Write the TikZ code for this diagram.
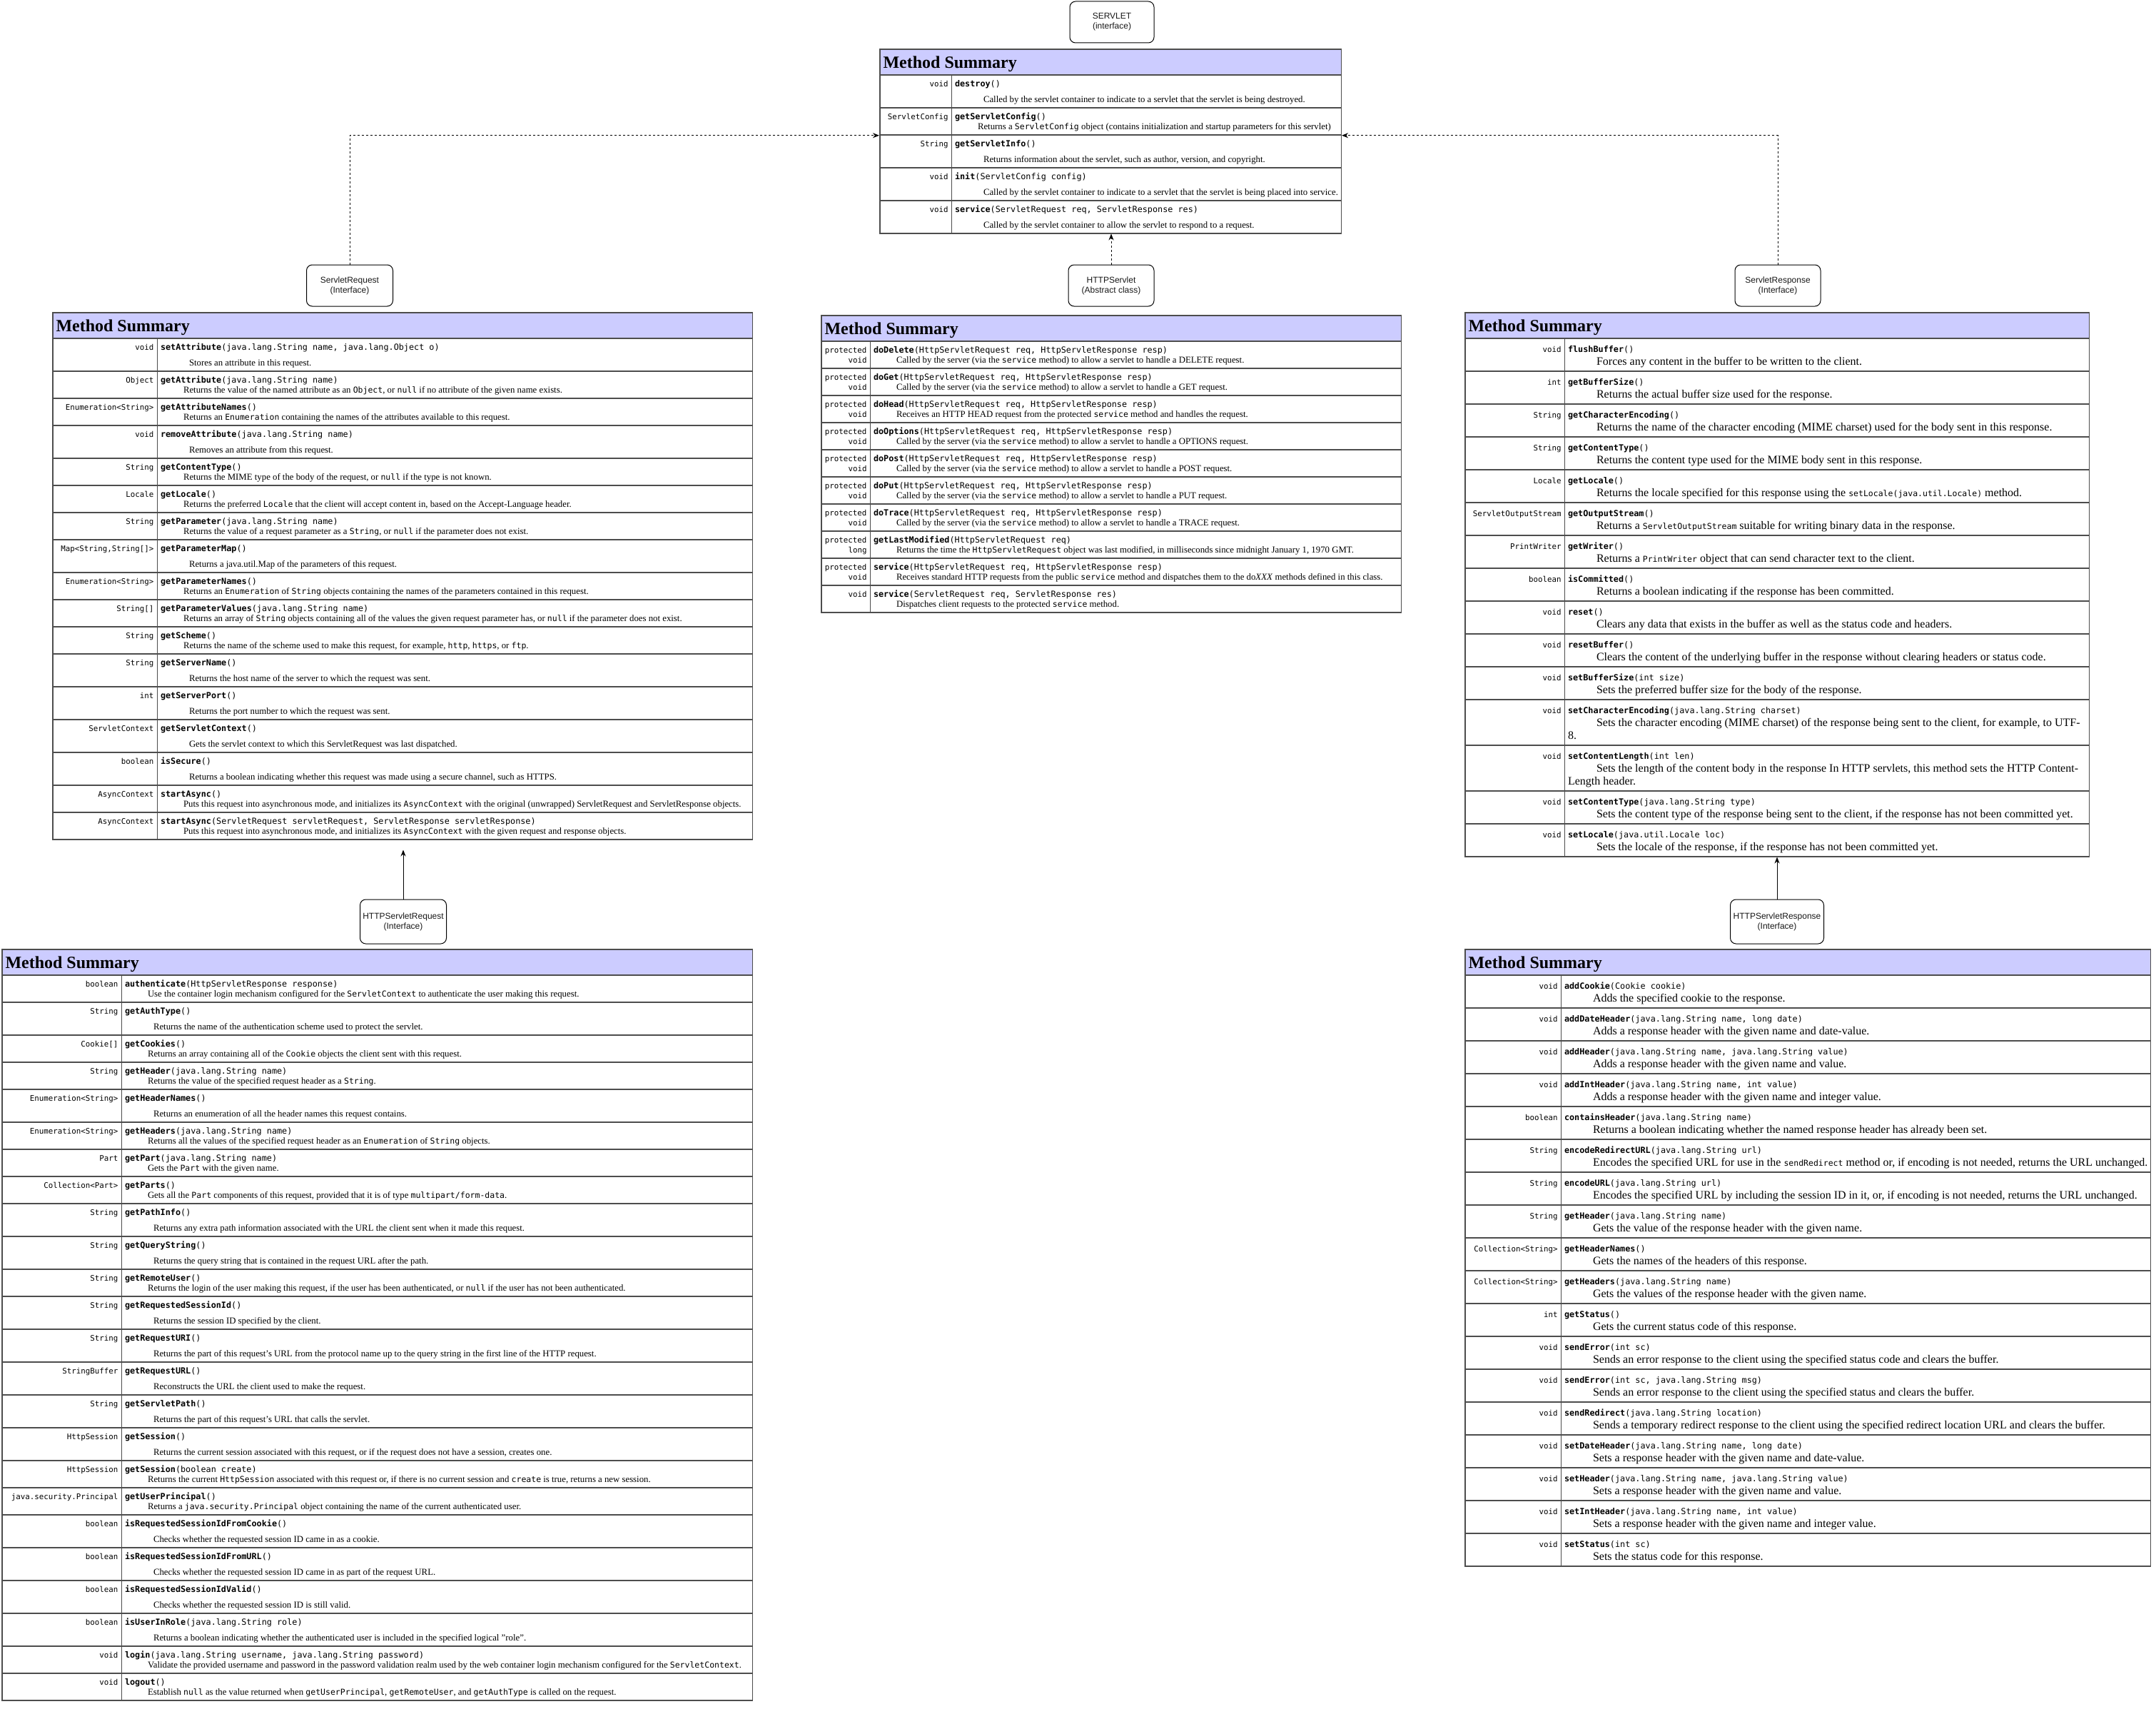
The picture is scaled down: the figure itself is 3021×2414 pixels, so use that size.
\documentclass[tikz,border=0pt]{standalone}
\usepackage{fontspec}
\setmainfont{Liberation Serif}
\setsansfont{Liberation Sans}
\setmonofont{DejaVu Sans Mono}
\usepackage{array}
\usepackage{colortbl}
\usetikzlibrary{arrows.meta}

\definecolor{hdrblue}{HTML}{CCCCFF}
\definecolor{rulegray}{HTML}{4D4D4D}
\setlength{\tabcolsep}{4pt}
\setlength{\arrayrulewidth}{1.5pt}
\arrayrulecolor{rulegray}

\newlength{\dind}
\newcommand{\lsk}{14}
\newcommand{\dsz}{12.8}
\newcommand{\typefont}{\fontsize{10.8}{\lsk}\selectfont\ttfamily}
\newcommand{\methfont}{\fontsize{11.8}{\lsk}\selectfont\ttfamily}
\newcommand{\descfont}{\fontsize{\dsz}{\lsk}\selectfont\rmfamily}
\newcommand{\mono}[1]{{\fontsize{11.5}{\lsk}\selectfont\ttfamily #1}}
\newcolumntype{L}[1]{>{\raggedleft\arraybackslash\typefont}p{#1}}
\newcolumntype{R}[1]{>{\raggedright\arraybackslash\methfont}p{#1}}
\newcommand{\mhead}{\hline\multicolumn{2}{|>{\columncolor{hdrblue}}l|}{\rule[-9pt]{0pt}{34.5pt}\fontsize{24}{28}\selectfont\bfseries Method Summary}\\\hline}
\newcommand{\mr}[4]{#1 & \textbf{#2}#3\par\noindent\hspace*{\dind}\mbox{\descfont #4}\\\hline}
\newcommand{\mrt}[4]{#1 & \textbf{#2}#3\par\vspace{8pt}\noindent\hspace*{40pt}\mbox{\descfont #4}\\\hline}
\newcommand{\mrw}[5]{#1 & \textbf{#2}#3\par\noindent\hspace*{\dind}\mbox{\descfont #4}\par\noindent\mbox{\descfont #5}\\\hline}
\newcommand{\smalltab}{\renewcommand{\lsk}{14}\renewcommand{\dsz}{12.8}\setlength{\dind}{32pt}\fontsize{12}{22.5}\selectfont}
\newcommand{\bigtab}{\renewcommand{\lsk}{18}\renewcommand{\dsz}{16}\setlength{\dind}{40pt}\fontsize{12}{26.5}\selectfont}

\begin{document}
\begin{tikzpicture}[x=1pt,y=-1pt]
	\tikzstyle{ibox}=[draw, rounded corners=8pt, line width=1pt, minimum height=58pt, align=center, text=black!90, font={\fontsize{12}{14}\selectfont\sffamily}]
	\tikzstyle{mtab}=[anchor=north west, inner sep=0pt, outer sep=0pt]
	\tikzstyle{dep}=[draw, line width=1pt, dash pattern=on 3pt off 3pt, -{Stealth[length=9pt,width=7pt]}]
	\tikzstyle{ext}=[draw, line width=1pt, -{Stealth[length=9pt,width=7pt]}]
	\fill[white] (0,0) rectangle (3021,2414);
	\useasboundingbox (0,0) rectangle (3021,2414);

	\node[ibox, minimum width=118pt] (srv) at (1558,31) {SERVLET\\(interface)};
	\node[ibox, minimum width=121pt] (sreq) at (490,400) {ServletRequest\\(Interface)};
	\node[ibox, minimum width=120pt] (hsrv) at (1557,400) {HTTPServlet\\(Abstract class)};
	\node[ibox, minimum width=120pt] (sres) at (2491,400) {ServletResponse\\(Interface)};
	\node[ibox, minimum width=121pt, minimum height=62pt] (hreq) at (565,1291) {HTTPServletRequest\\(Interface)};
	\node[ibox, minimum width=131pt, minimum height=62pt] (hres) at (2490,1291) {HTTPServletResponse\\(Interface)};

	\node[mtab] (srvtab) at (1232,68) {\smalltab\begin{tabular}{|L{91pt}|R{536.5pt}|}
		\mhead
		\mrt{void}{destroy}{()}{Called by the servlet container to indicate to a servlet that the servlet is being destroyed.}
		\mr{ServletConfig}{getServletConfig}{()}{Returns a \mono{ServletConfig} object (contains initialization and startup parameters for this servlet)}
		\mrt{String}{getServletInfo}{()}{Returns information about the servlet, such as author, version, and copyright.}
		\mrt{void}{init}{(ServletConfig config)}{Called by the servlet container to indicate to a servlet that the servlet is being placed into service.}
		\mrt{void}{service}{(ServletRequest req, ServletResponse res)}{Called by the servlet container to allow the servlet to respond to a request.}
	\end{tabular}};

	\node[mtab] (sreqtab) at (73,437) {\smalltab\begin{tabular}{|L{137pt}|R{824.5pt}|}
		\mhead
		\mrt{void}{setAttribute}{(java.lang.String name, java.lang.Object o)}{Stores an attribute in this request.}
		\mr{Object}{getAttribute}{(java.lang.String name)}{Returns the value of the named attribute as an \mono{Object}, or \mono{null} if no attribute of the given name exists.}
		\mr{Enumeration<String>}{getAttributeNames}{()}{Returns an \mono{Enumeration} containing the names of the attributes available to this request.}
		\mrt{void}{removeAttribute}{(java.lang.String name)}{Removes an attribute from this request.}
		\mr{String}{getContentType}{()}{Returns the MIME type of the body of the request, or \mono{null} if the type is not known.}
		\mr{Locale}{getLocale}{()}{Returns the preferred \mono{Locale} that the client will accept content in, based on the Accept-Language header.}
		\mr{String}{getParameter}{(java.lang.String name)}{Returns the value of a request parameter as a \mono{String}, or \mono{null} if the parameter does not exist.}
		\mrt{Map<String,String[]>}{getParameterMap}{()}{Returns a java.util.Map of the parameters of this request.}
		\mr{Enumeration<String>}{getParameterNames}{()}{Returns an \mono{Enumeration} of \mono{String} objects containing the names of the parameters contained in this request.}
		\mr{String[]}{getParameterValues}{(java.lang.String name)}{Returns an array of \mono{String} objects containing all of the values the given request parameter has, or \mono{null} if the parameter does not exist.}
		\mr{String}{getScheme}{()}{Returns the name of the scheme used to make this request, for example, \mono{http}, \mono{https}, or \mono{ftp}.}
		\mrt{String}{getServerName}{()}{Returns the host name of the server to which the request was sent.}
		\mrt{int}{getServerPort}{()}{Returns the port number to which the request was sent.}
		\mrt{ServletContext}{getServletContext}{()}{Gets the servlet context to which this ServletRequest was last dispatched.}
		\mrt{boolean}{isSecure}{()}{Returns a boolean indicating whether this request was made using a secure channel, such as HTTPS.}
		\mr{AsyncContext}{startAsync}{()}{Puts this request into asynchronous mode, and initializes its \mono{AsyncContext} with the original (unwrapped) ServletRequest and ServletResponse objects.}
		\mr{AsyncContext}{startAsync}{(ServletRequest servletRequest, ServletResponse servletResponse)}{Puts this request into asynchronous mode, and initializes its \mono{AsyncContext} with the given request and response objects.}
	\end{tabular}};

	\node[mtab] (hsrvtab) at (1150,441) {\smalltab\begin{tabular}{|L{59pt}|R{734.5pt}|}
		\mhead
		\mr{protected\newline void}{doDelete}{(HttpServletRequest req, HttpServletResponse resp)}{Called by the server (via the \mono{service} method) to allow a servlet to handle a DELETE request.}
		\mr{protected\newline void}{doGet}{(HttpServletRequest req, HttpServletResponse resp)}{Called by the server (via the \mono{service} method) to allow a servlet to handle a GET request.}
		\mr{protected\newline void}{doHead}{(HttpServletRequest req, HttpServletResponse resp)}{Receives an HTTP HEAD request from the protected \mono{service} method and handles the request.}
		\mr{protected\newline void}{doOptions}{(HttpServletRequest req, HttpServletResponse resp)}{Called by the server (via the \mono{service} method) to allow a servlet to handle a OPTIONS request.}
		\mr{protected\newline void}{doPost}{(HttpServletRequest req, HttpServletResponse resp)}{Called by the server (via the \mono{service} method) to allow a servlet to handle a POST request.}
		\mr{protected\newline void}{doPut}{(HttpServletRequest req, HttpServletResponse resp)}{Called by the server (via the \mono{service} method) to allow a servlet to handle a PUT request.}
		\mr{protected\newline void}{doTrace}{(HttpServletRequest req, HttpServletResponse resp)}{Called by the server (via the \mono{service} method) to allow a servlet to handle a TRACE request.}
		\mr{protected\newline long}{getLastModified}{(HttpServletRequest req)}{Returns the time the \mono{HttpServletRequest} object was last modified, in milliseconds since midnight January 1, 1970 GMT.}
		\mr{protected\newline void}{service}{(HttpServletRequest req, HttpServletResponse resp)}{Receives standard HTTP requests from the public \mono{service} method and dispatches them to the do\textit{XXX} methods defined in this class.}
		\mr{void}{service}{(ServletRequest req, ServletResponse res)}{Dispatches client requests to the protected \mono{service} method.}
	\end{tabular}};

	\node[mtab] (srestab) at (2052,437) {\bigtab\begin{tabular}{|L{130pt}|R{725.5pt}|}
		\mhead
		\mr{void}{flushBuffer}{()}{Forces any content in the buffer to be written to the client.}
		\mr{int}{getBufferSize}{()}{Returns the actual buffer size used for the response.}
		\mr{String}{getCharacterEncoding}{()}{Returns the name of the character encoding (MIME charset) used for the body sent in this response.}
		\mr{String}{getContentType}{()}{Returns the content type used for the MIME body sent in this response.}
		\mr{Locale}{getLocale}{()}{Returns the locale specified for this response using the \mono{setLocale(java.util.Locale)} method.}
		\mr{ServletOutputStream}{getOutputStream}{()}{Returns a \mono{ServletOutputStream} suitable for writing binary data in the response.}
		\mr{PrintWriter}{getWriter}{()}{Returns a \mono{PrintWriter} object that can send character text to the client.}
		\mr{boolean}{isCommitted}{()}{Returns a boolean indicating if the response has been committed.}
		\mr{void}{reset}{()}{Clears any data that exists in the buffer as well as the status code and headers.}
		\mr{void}{resetBuffer}{()}{Clears the content of the underlying buffer in the response without clearing headers or status code.}
		\mr{void}{setBufferSize}{(int size)}{Sets the preferred buffer size for the body of the response.}
		\mrw{void}{setCharacterEncoding}{(java.lang.String charset)}{Sets the character encoding (MIME charset) of the response being sent to the client, for example, to UTF-}{8.}
		\mrw{void}{setContentLength}{(int len)}{Sets the length of the content body in the response In HTTP servlets, this method sets the HTTP Content-}{Length header.}
		\mr{void}{setContentType}{(java.lang.String type)}{Sets the content type of the response being sent to the client, if the response has not been committed yet.}
		\mr{void}{setLocale}{(java.util.Locale loc)}{Sets the locale of the response, if the response has not been committed yet.}
	\end{tabular}};

	\node[mtab] (hreqtab) at (2,1329) {\smalltab\begin{tabular}{|L{158pt}|R{874.5pt}|}
		\mhead
		\mr{boolean}{authenticate}{(HttpServletResponse response)}{Use the container login mechanism configured for the \mono{ServletContext} to authenticate the user making this request.}
		\mrt{String}{getAuthType}{()}{Returns the name of the authentication scheme used to protect the servlet.}
		\mr{Cookie[]}{getCookies}{()}{Returns an array containing all of the \mono{Cookie} objects the client sent with this request.}
		\mr{String}{getHeader}{(java.lang.String name)}{Returns the value of the specified request header as a \mono{String}.}
		\mrt{Enumeration<String>}{getHeaderNames}{()}{Returns an enumeration of all the header names this request contains.}
		\mr{Enumeration<String>}{getHeaders}{(java.lang.String name)}{Returns all the values of the specified request header as an \mono{Enumeration} of \mono{String} objects.}
		\mr{Part}{getPart}{(java.lang.String name)}{Gets the \mono{Part} with the given name.}
		\mr{Collection<Part>}{getParts}{()}{Gets all the \mono{Part} components of this request, provided that it is of type \mono{multipart/form-data}.}
		\mrt{String}{getPathInfo}{()}{Returns any extra path information associated with the URL the client sent when it made this request.}
		\mrt{String}{getQueryString}{()}{Returns the query string that is contained in the request URL after the path.}
		\mr{String}{getRemoteUser}{()}{Returns the login of the user making this request, if the user has been authenticated, or \mono{null} if the user has not been authenticated.}
		\mrt{String}{getRequestedSessionId}{()}{Returns the session ID specified by the client.}
		\mrt{String}{getRequestURI}{()}{Returns the part of this request's URL from the protocol name up to the query string in the first line of the HTTP request.}
		\mrt{StringBuffer}{getRequestURL}{()}{Reconstructs the URL the client used to make the request.}
		\mrt{String}{getServletPath}{()}{Returns the part of this request's URL that calls the servlet.}
		\mrt{HttpSession}{getSession}{()}{Returns the current session associated with this request, or if the request does not have a session, creates one.}
		\mr{HttpSession}{getSession}{(boolean create)}{Returns the current \mono{HttpSession} associated with this request or, if there is no current session and \mono{create} is true, returns a new session.}
		\mr{java.security.Principal}{getUserPrincipal}{()}{Returns a \mono{java.security.Principal} object containing the name of the current authenticated user.}
		\mrt{boolean}{isRequestedSessionIdFromCookie}{()}{Checks whether the requested session ID came in as a cookie.}
		\mrt{boolean}{isRequestedSessionIdFromURL}{()}{Checks whether the requested session ID came in as part of the request URL.}
		\mrt{boolean}{isRequestedSessionIdValid}{()}{Checks whether the requested session ID is still valid.}
		\mrt{boolean}{isUserInRole}{(java.lang.String role)}{Returns a boolean indicating whether the authenticated user is included in the specified logical "role".}
		\mr{void}{login}{(java.lang.String username, java.lang.String password)}{Validate the provided username and password in the password validation realm used by the web container login mechanism configured for the \mono{ServletContext}.}
		\mr{void}{logout}{()}{Establish \mono{null} as the value returned when \mono{getUserPrincipal}, \mono{getRemoteUser}, and \mono{getAuthType} is called on the request.}
	\end{tabular}};

	\node[mtab] (hrestab) at (2052,1329) {\bigtab\begin{tabular}{|L{125pt}|R{816.5pt}|}
		\mhead
		\mr{void}{addCookie}{(Cookie cookie)}{Adds the specified cookie to the response.}
		\mr{void}{addDateHeader}{(java.lang.String name, long date)}{Adds a response header with the given name and date-value.}
		\mr{void}{addHeader}{(java.lang.String name, java.lang.String value)}{Adds a response header with the given name and value.}
		\mr{void}{addIntHeader}{(java.lang.String name, int value)}{Adds a response header with the given name and integer value.}
		\mr{boolean}{containsHeader}{(java.lang.String name)}{Returns a boolean indicating whether the named response header has already been set.}
		\mr{String}{encodeRedirectURL}{(java.lang.String url)}{Encodes the specified URL for use in the \mono{sendRedirect} method or, if encoding is not needed, returns the URL unchanged.}
		\mr{String}{encodeURL}{(java.lang.String url)}{Encodes the specified URL by including the session ID in it, or, if encoding is not needed, returns the URL unchanged.}
		\mr{String}{getHeader}{(java.lang.String name)}{Gets the value of the response header with the given name.}
		\mr{Collection<String>}{getHeaderNames}{()}{Gets the names of the headers of this response.}
		\mr{Collection<String>}{getHeaders}{(java.lang.String name)}{Gets the values of the response header with the given name.}
		\mr{int}{getStatus}{()}{Gets the current status code of this response.}
		\mr{void}{sendError}{(int sc)}{Sends an error response to the client using the specified status code and clears the buffer.}
		\mr{void}{sendError}{(int sc, java.lang.String msg)}{Sends an error response to the client using the specified status and clears the buffer.}
		\mr{void}{sendRedirect}{(java.lang.String location)}{Sends a temporary redirect response to the client using the specified redirect location URL and clears the buffer.}
		\mr{void}{setDateHeader}{(java.lang.String name, long date)}{Sets a response header with the given name and date-value.}
		\mr{void}{setHeader}{(java.lang.String name, java.lang.String value)}{Sets a response header with the given name and value.}
		\mr{void}{setIntHeader}{(java.lang.String name, int value)}{Sets a response header with the given name and integer value.}
		\mr{void}{setStatus}{(int sc)}{Sets the status code for this response.}
	\end{tabular}};

	\draw[dep] (sreq.north) |- ([yshift=8pt]srvtab.west);
	\draw[dep] (hsrv.north) -- (hsrv.north |- srvtab.south);
	\draw[dep] (sres.north) |- ([yshift=8pt]srvtab.east);
	\draw[ext, shorten >=14pt] (hreq.north) -- (hreq.north |- sreqtab.south);
	\draw[ext] (hres.north) -- (hres.north |- srestab.south);
\end{tikzpicture}
\end{document}
